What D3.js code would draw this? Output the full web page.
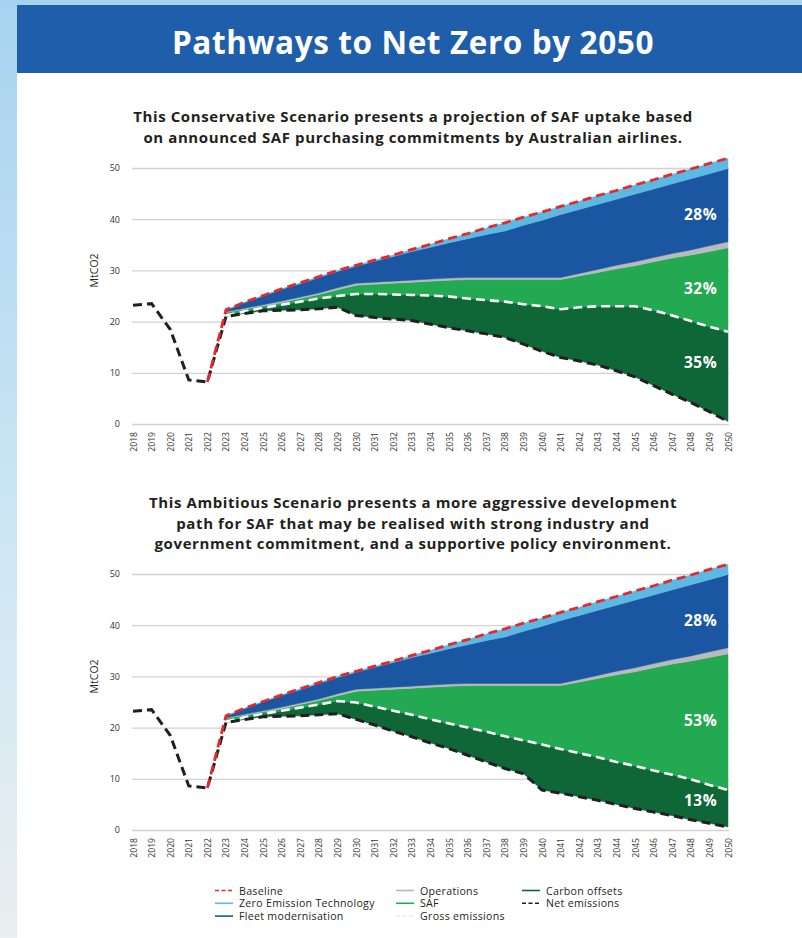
<!DOCTYPE html>
<html>
<head>
<meta charset="utf-8">
<script src="https://cdn.jsdelivr.net/npm/d3@7"></script>
<style>
  body { margin: 0; background: #fff; }
  svg { display: block; }
</style>
</head>
<body>
<script>
// Width and Height of the whole page
var width = 802;
var height = 938;

// history (actuals) - net emissions only
var histYears = [2018, 2019, 2020, 2021, 2022];
var histNet = [23.2, 23.5, 18.5, 8.6, 8.2];

// projection years
var projYears = [2023, 2024, 2025, 2026, 2027, 2028, 2029, 2030, 2031, 2032, 2033, 2034, 2035, 2036,
                 2037, 2038, 2039, 2040, 2041, 2042, 2043, 2044, 2045, 2046, 2047, 2048, 2049, 2050];

// abatement shared by both scenarios (MtCO2)
var zetValues = [0.1, 0.1, 0.1, 0.1, 0.2, 0.2, 0.2, 0.2, 0.2, 0.3, 0.4, 0.6, 0.8, 1.0,
                 1.3, 1.6, 1.6, 1.6, 1.6, 1.6, 1.7, 1.7, 1.8, 1.8, 1.9, 1.9, 2.0, 2.0];
var fleetValues = [0.3, 1.1, 1.7, 2.3, 2.6, 3.0, 3.2, 3.3, 4.1, 4.8, 5.6, 6.2, 6.9, 7.6,
                   8.4, 9.1, 10.2, 11.2, 12.3, 12.5, 12.7, 12.9, 13.2, 13.4, 13.6, 13.9, 14.1, 14.3];
var opsValues = [0.1, 0.2, 0.2, 0.3, 0.3, 0.3, 0.4, 0.4, 0.4, 0.4, 0.4, 0.4, 0.4, 0.4,
                 0.4, 0.4, 0.4, 0.4, 0.4, 0.5, 0.6, 0.7, 0.8, 0.8, 0.9, 1.0, 1.1, 1.2];

// conservative scenario
var safCons = [0.6, 0.4, 0.4, 0.4, 0.6, 0.8, 1.2, 1.7, 1.9, 2.2, 2.5, 2.8, 3.2, 3.7,
               4.0, 4.3, 4.8, 5.2, 5.8, 6.1, 6.6, 7.3, 7.9, 9.5, 11.2, 12.9, 14.7, 16.4];
var offsetsCons = [0.2, 0.4, 0.6, 1.1, 1.6, 2.0, 2.2, 4.2, 4.6, 4.8, 5.0, 5.6, 6.1, 6.3,
                   6.6, 7.0, 7.8, 8.8, 9.4, 10.5, 11.5, 12.6, 13.8, 14.7, 15.4, 15.9, 16.6, 17.5];
var netCons = [21.0, 21.6, 22.1, 22.2, 22.3, 22.5, 22.8, 21.2, 20.8, 20.5, 20.2, 19.5, 18.8, 18.2,
               17.6, 16.9, 15.6, 14.2, 13.0, 12.3, 11.5, 10.4, 9.2, 7.5, 5.8, 4.2, 2.4, 0.5];

// ambitious scenario
var safAmb = [0.6, 0.4, 0.4, 0.4, 0.6, 0.8, 1.0, 2.2, 3.2, 4.2, 5.2, 6.3, 7.3, 8.2,
              9.0, 9.9, 10.7, 11.5, 12.4, 13.9, 15.4, 17.0, 18.4, 20.1, 21.6, 23.1, 24.9, 26.6];
var offsetsAmb = [0.2, 0.4, 0.6, 1.1, 1.6, 2.0, 2.5, 3.3, 3.6, 4.0, 4.3, 4.6, 4.9, 5.4,
                  5.9, 6.3, 6.5, 8.9, 8.6, 8.5, 8.4, 8.3, 8.3, 8.1, 8.0, 7.9, 7.5, 7.2];
var netAmb = [21.0, 21.6, 22.1, 22.2, 22.3, 22.5, 22.7, 21.6, 20.5, 19.3, 18.2, 17.0, 15.9, 14.6,
              13.3, 12.0, 11.0, 7.8, 7.2, 6.5, 5.8, 5.0, 4.2, 3.5, 2.8, 2.0, 1.3, 0.6];

var yTicks = [0, 10, 20, 30, 40, 50];
var pctCons = ["28%", "32%", "35%"];
var pctAmb = ["28%", "53%", "13%"];

var subtitleCons = ["This Conservative Scenario presents a projection of SAF uptake based",
                    "on announced SAF purchasing commitments by Australian airlines."];
var subtitleAmb = ["This Ambitious Scenario presents a more aggressive development",
                   "path for SAF that may be realised with strong industry and",
                   "government commitment, and a supportive policy environment."];

var colors = {
  zet: "#5cb9e4",
  fleet: "#1b56a3",
  ops: "#b9babd",
  saf: "#23a952",
  offsets: "#0f6636",
  base: "#e8262b",
  net: "#231f20"
};

var font = "'Open Sans', 'DejaVu Sans', sans-serif";

// Create SVG
var svg = d3.select("body")
    .append("svg")
    .attr("width", width)
    .attr("height", height)
    .style("font-family", font);

// page background: light blue gradient strip on the left + top
var defs = svg.append("defs");
var grad = defs.append("linearGradient")
    .attr("id", "side")
    .attr("x1", 0).attr("y1", 0).attr("x2", 0).attr("y2", 1);
grad.append("stop").attr("offset", "0%").attr("stop-color", "#a7d3f0");
grad.append("stop").attr("offset", "55%").attr("stop-color", "#cce6f4");
grad.append("stop").attr("offset", "100%").attr("stop-color", "#eaeff0");

svg.append("rect").attr("x", 0).attr("y", 0).attr("width", width).attr("height", height)
    .attr("fill", "url(#side)");
svg.append("rect").attr("x", 17).attr("y", 5).attr("width", width - 17).attr("height", height - 5)
    .attr("fill", "#fff");

// header bar
svg.append("rect").attr("x", 17).attr("y", 5).attr("width", width - 17).attr("height", 68)
    .attr("fill", "#1f5eaa");
svg.append("text")
    .attr("x", 413).attr("y", 41)
    .attr("text-anchor", "middle")
    .attr("dominant-baseline", "central")
    .attr("fill", "#fff")
    .style("font-size", "31.5px")
    .style("letter-spacing", "0.6px")
    .style("font-weight", "bold")
    .text("Pathways to Net Zero by 2050");

var x = d3.scaleLinear().domain([2018, 2050]).range([133, 728]);

function drawChart(y0, subtitle, subY, saf, offsets, net, pct) {
  var y = d3.scaleLinear().domain([0, 50]).range([y0, y0 - 256]);
  var g = svg.append("g");

  // subtitle
  g.selectAll(".sub")
      .data(subtitle)
      .enter().append("text")
      .attr("x", 413)
      .attr("y", function(d, i) { return subY + i * 20.5; })
      .attr("text-anchor", "middle")
      .attr("dominant-baseline", "central")
      .attr("fill", "#231f20")
      .style("font-size", "15px")
      .style("letter-spacing", "0.6px")
      .style("font-weight", "bold")
      .text(function(d) { return d; });

  // gridlines + y labels
  var yAxis = g.append("g")
      .attr("transform", "translate(132,0)")
      .call(d3.axisLeft(y).tickValues(yTicks).tickSize(-597).tickPadding(12));
  yAxis.select(".domain").remove();
  yAxis.selectAll("line").attr("stroke", "#d2d2d2").attr("stroke-width", 1.3);
  yAxis.selectAll("text").attr("fill", "#333").style("font-size", "9px").style("font-family", font);

  g.append("text")
      .attr("transform", "translate(94," + y(30) + ") rotate(-90)")
      .attr("text-anchor", "middle")
      .attr("dominant-baseline", "central")
      .attr("fill", "#231f20")
      .style("font-size", "10.5px")
      .text("MtCO2");

  // x labels (rotated)
  var allYears = histYears.concat(projYears);
  var xAxis = g.append("g")
      .attr("transform", "translate(0," + y0 + ")")
      .call(d3.axisBottom(x).tickValues(allYears).tickSize(0).tickFormat(d3.format("d")));
  xAxis.select(".domain").remove();
  xAxis.selectAll("text")
      .attr("transform", "rotate(-90)")
      .attr("text-anchor", "end")
      .attr("x", -8)
      .attr("y", 0)
      .attr("dy", "0.35em")
      .attr("fill", "#333")
      .style("font-size", "8.6px")
      .style("font-family", font);

  // stack the wedges on top of net emissions
  var rows = projYears.map(function(yr, i) {
    return { year: yr, net: net[i], offsets: offsets[i], saf: saf[i],
             ops: opsValues[i], fleet: fleetValues[i], zet: zetValues[i] };
  });
  var keys = ["net", "offsets", "saf", "ops", "fleet", "zet"];
  var series = d3.stack().keys(keys)(rows);

  var area = d3.area()
      .x(function(d) { return x(d.data.year); })
      .y0(function(d) { return y(d[0]); })
      .y1(function(d) { return y(d[1]); });

  g.selectAll(".band")
      .data(series.slice(1))
      .enter().append("path")
      .attr("class", "band")
      .attr("fill", function(d) { return colors[d.key]; })
      .attr("stroke", function(d) { return colors[d.key]; })
      .attr("stroke-width", 0.5)
      .attr("d", area);

  var line = d3.line()
      .x(function(d) { return x(d[0]); })
      .y(function(d) { return y(d[1]); });

  // gross emissions (top of carbon offsets)
  var gross = series[1].map(function(d) { return [d.data.year, d[1]]; });
  g.append("path")
      .attr("d", line(gross))
      .attr("fill", "none")
      .attr("stroke", "#fff")
      .attr("stroke-width", 2.6)
      .attr("stroke-dasharray", "9,5");

  // net emissions incl. history
  var netPts = histYears.map(function(yr, i) { return [yr, histNet[i]]; })
      .concat(projYears.map(function(yr, i) { return [yr, net[i]]; }));
  g.append("path")
      .attr("d", line(netPts))
      .attr("fill", "none")
      .attr("stroke", colors.net)
      .attr("stroke-width", 3)
      .attr("stroke-dasharray", "9,5");

  // baseline = top of the stack
  var basePts = [[histYears[4], histNet[4]]]
      .concat(series[5].map(function(d) { return [d.data.year, d[1]]; }));
  g.append("path")
      .attr("d", line(basePts))
      .attr("fill", "none")
      .attr("stroke", colors.base)
      .attr("stroke-width", 2.8)
      .attr("stroke-dasharray", "9,5");

  // share labels at the right end (fleet, saf, offsets)
  var k = 25;
  var labelBands = [series[4], series[2], series[1]];
  g.selectAll(".pct")
      .data(pct)
      .enter().append("text")
      .attr("x", 717)
      .attr("y", function(d, i) {
        var b = labelBands[i][k];
        return y((b[0] + b[1]) / 2);
      })
      .attr("text-anchor", "end")
      .attr("dominant-baseline", "central")
      .attr("fill", "#fff")
      .style("font-size", "15.5px")
      .style("letter-spacing", "0.4px")
      .style("font-weight", "bold")
      .text(function(d) { return d; });
}

drawChart(424, subtitleCons, 116, safCons, offsetsCons, netCons, pctCons);
drawChart(830, subtitleAmb, 502, safAmb, offsetsAmb, netAmb, pctAmb);

// Legend
var legendItems = [
  { name: "Baseline", color: colors.base, dash: "4,2.5", col: 0, row: 0 },
  { name: "Zero Emission Technology", color: colors.zet, dash: null, col: 0, row: 1 },
  { name: "Fleet modernisation", color: colors.fleet, dash: null, col: 0, row: 2 },
  { name: "Operations", color: colors.ops, dash: null, col: 1, row: 0 },
  { name: "SAF", color: colors.saf, dash: null, col: 1, row: 1 },
  { name: "Gross emissions", color: "#eeeeee", dash: "4,2.5", col: 1, row: 2 },
  { name: "Carbon offsets", color: colors.offsets, dash: null, col: 2, row: 0 },
  { name: "Net emissions", color: colors.net, dash: "4,2.5", col: 2, row: 1 }
];
var colX = [215, 396, 522];

var legend = svg.append("g");
var li = legend.selectAll(".item")
    .data(legendItems)
    .enter().append("g")
    .attr("transform", function(d) { return "translate(" + colX[d.col] + "," + (890.5 + d.row * 12.8) + ")"; });
li.append("line")
    .attr("x1", 0).attr("x2", 18)
    .attr("stroke", function(d) { return d.color; })
    .attr("stroke-width", 1.6)
    .attr("stroke-dasharray", function(d) { return d.dash; });
li.append("text")
    .attr("x", 24)
    .attr("dominant-baseline", "central")
    .attr("fill", "#231f20")
    .style("font-size", "10.6px")
    .style("letter-spacing", "0.3px")
    .text(function(d) { return d.name; });
</script>
</body>
</html>
